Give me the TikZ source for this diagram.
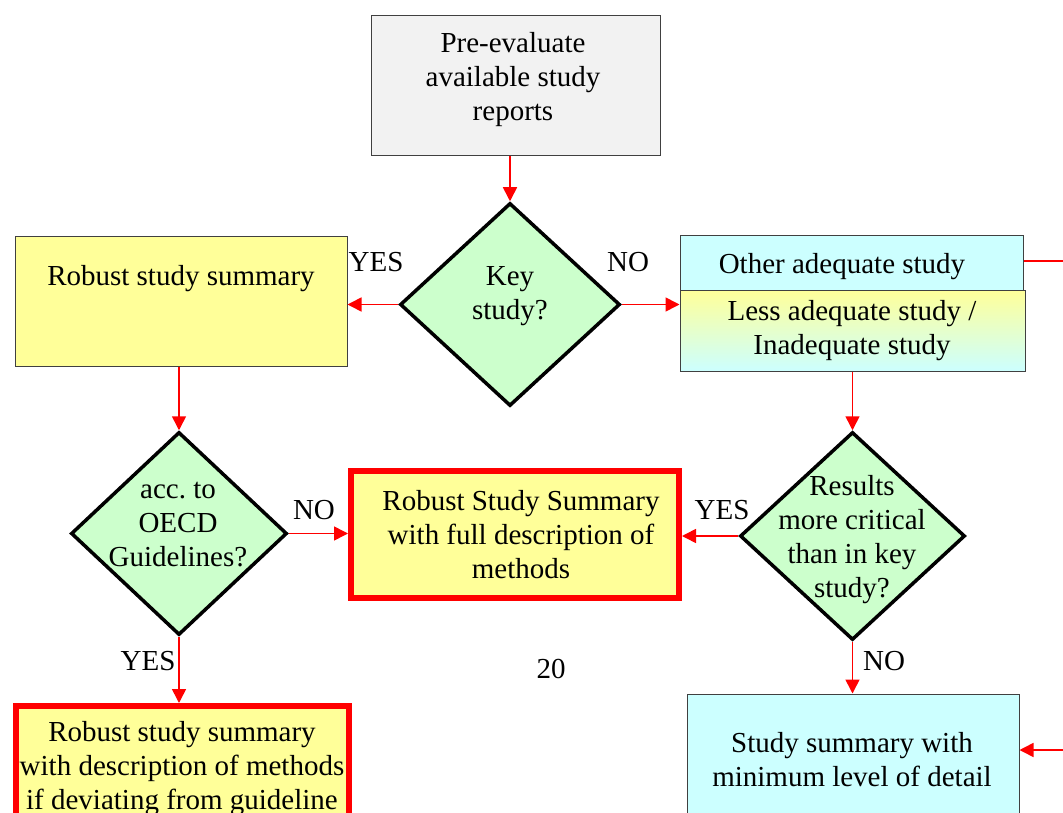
\documentclass[tikz,border=0pt]{standalone}
\usepackage{fontspec}
\setmainfont{Liberation Serif}
\usetikzlibrary{shapes.geometric,arrows.meta}
\definecolor{grayfill}{HTML}{F2F2F2}
\definecolor{yel}{HTML}{FFFF99}
\definecolor{cyn}{HTML}{CCFFFF}
\definecolor{grn}{HTML}{CCFFCC}
\begin{document}
\frenchspacing
\begin{tikzpicture}[x=1pt,y=-1pt,
  font=\fontsize{29}{34}\selectfont,
  box/.style={draw=black!75, line width=1pt, rectangle, inner sep=0},
  redbox/.style={draw=red, line width=6pt, fill=yel, rectangle, inner sep=0},
  dec/.style={diamond, draw=black, line width=3.5pt, fill=grn, inner sep=0, aspect=1},
  txt/.style={align=center, inner sep=0},
  arr/.style={draw=red, line width=1.6pt, -{Triangle[length=14pt,width=14pt]}},
  lin/.style={draw=red, line width=1.6pt},
  lab/.style={inner sep=0}]
\useasboundingbox (0,0) rectangle (1063,813);
\clip (0,0) rectangle (1063,813);

% boxes
\node[box, fill=grayfill, minimum width=289pt, minimum height=140pt] (pre) at (515.5,86) {};
\node[box, fill=yel, minimum width=332pt, minimum height=129pt] (rss) at (181,301.5) {};
\node[box, fill=cyn, minimum width=343pt, minimum height=55pt] (oth) at (851.5,263.5) {};
\node[box, top color=yel, bottom color=cyn, minimum width=345pt, minimum height=81pt] (less) at (852.5,330.5) {};
\node[redbox, minimum width=328pt, minimum height=127pt] (full) at (515,534.5) {};
\node[redbox, minimum width=333pt, minimum height=160pt] (bl) at (182.5,786) {};
\node[box, fill=cyn, minimum width=332pt, minimum height=160pt] (ssum) at (853,774) {};

% diamonds
\node[dec, minimum width=220pt, minimum height=203pt] (key) at (510,304.5) {};
\node[dec, minimum width=225pt, minimum height=208pt] (res) at (852.5,536) {};
\node[dec, minimum width=216pt, minimum height=203pt] (oecd) at (179,533.5) {};

% texts
\node[txt] (pret) at (513,80) {Pre-evaluate\\available study\\reports};
\node[txt] (keyt) at (510,296) {Key\\study?};
\node[txt] (rsst) at (181,279) {Robust study summary};
\node[txt] (otht) at (842,267) {Other adequate study};
\node[txt] (lesst) at (852,330.5) {Less adequate study /\\Inadequate study};
\node[txt] (oecdt) at (178,525) {acc. to\\OECD\\Guidelines?};
\node[txt] (fullt) at (521,535) {Robust Study Summary\\with full description of\\methods};
\node[txt] (rest) at (852,539.5) {Results\\more critical\\than in key\\study?};
\node[txt] (blt) at (182,769) {Robust study summary\\with description of methods\\if deviating from guideline};
\node[txt] (ssumt) at (852,759.5) {Study summary with\\minimum level of detail};
\node[txt] (page) at (551,669) {20};

% labels
\node[lab] (l1) at (376,262) {YES};
\node[lab] (l2) at (628,262) {NO};
\node[lab] (l3) at (314,510) {NO};
\node[lab] (l4) at (722,510) {YES};
\node[lab] (l5) at (148,661) {YES};
\node[lab] (l6) at (884,661) {NO};

% off-page coordinates
\coordinate (offA) at (1075,261);
\coordinate (offB) at (1075,750);

% connectors
\draw[arr] (key.north |- pre.south) -- (key.north);
\draw[arr] (key.west) -- (key.west -| rss.east);
\draw[arr] (key.east) -- (key.east -| less.west);
\draw[lin] (oth.east |- offA) -- (offA);
\draw[arr] (res.north |- less.south) -- (res.north);
\draw[arr] (oecd.north |- rss.south) -- (oecd.north);
\draw[arr] (oecd.east) -- (oecd.east -| full.west);
\draw[arr] (res.west) -- (res.west -| full.east);
\draw[arr] (oecd.south) -- (oecd.south |- bl.north);
\draw[arr] (res.south) -- (res.south |- ssum.north);
\draw[arr] (offB) -- (offB -| ssum.east);
\end{tikzpicture}
\end{document}
